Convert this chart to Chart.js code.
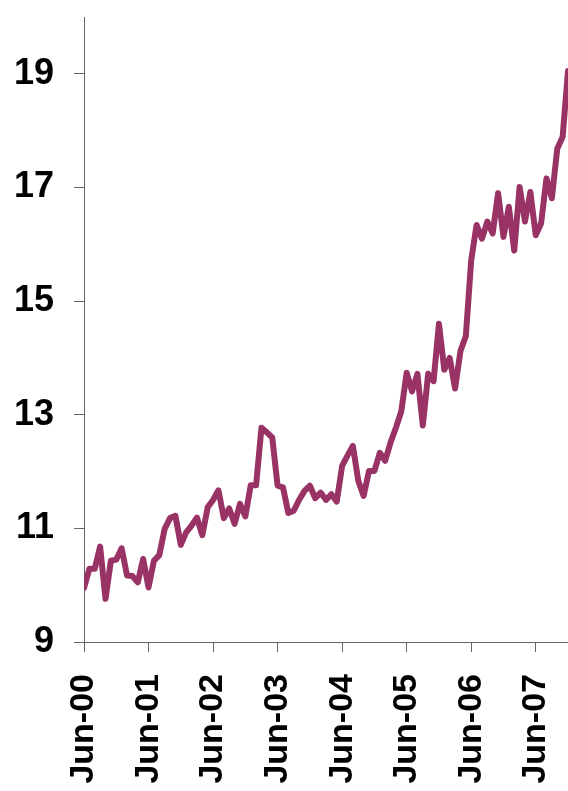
<!DOCTYPE html>
<html>
<head>
<meta charset="utf-8">
<script src="https://cdn.jsdelivr.net/npm/chart.js@4.4.1/dist/chart.umd.min.js"></script>
<style>
  html, body { margin: 0; padding: 0; background: #fff; }
  #wrap { width: 568px; height: 791px; position: relative; }
</style>
</head>
<body>
<div id="wrap"><canvas id="chart"></canvas></div>
<script>
// monthly series, Jun-00 .. Dec-07
const MONTH_NAMES = ['Jan', 'Feb', 'Mar', 'Apr', 'May', 'Jun', 'Jul', 'Aug', 'Sep', 'Oct', 'Nov', 'Dec'];
const months = [];
for (let i = 0; i < 91; i++) {
    const m = 5 + i;
    const yr = 2000 + Math.floor(m / 12);
    months.push(MONTH_NAMES[m % 12] + '-' + String(yr % 100).padStart(2, '0'));
}

const values = [
    9.95, 10.29, 10.29, 10.68, 9.76, 10.43, 10.45, 10.65, 10.17, 10.16,
    10.05, 10.46, 9.96, 10.43, 10.53, 10.99, 11.18, 11.22, 10.71, 10.93,
    11.05, 11.19, 10.88, 11.37, 11.5, 11.67, 11.18, 11.35, 11.08, 11.43,
    11.21, 11.76, 11.76, 12.77, 12.69, 12.6, 11.75, 11.72, 11.27, 11.31,
    11.5, 11.66, 11.75, 11.53, 11.63, 11.5, 11.6, 11.47, 12.1, 12.28,
    12.45, 11.84, 11.57, 12.01, 12.01, 12.33, 12.19, 12.51, 12.77, 13.06,
    13.74, 13.41, 13.72, 12.81, 13.72, 13.59, 14.6, 13.79, 14.0, 13.46,
    14.12, 14.38, 15.72, 16.34, 16.1, 16.4, 16.19, 16.9, 16.13, 16.66,
    15.89, 17.01, 16.4, 16.92, 16.16, 16.37, 17.16, 16.81, 17.68, 17.89,
    19.05
];

const xTickIdx = [0, 12, 24, 36, 48, 60, 72, 84];
const yTicks = [9, 11, 13, 15, 17, 19];

const LINE_COLOR = '#993366';
const AXIS_COLOR = '#666666';
const FONT = 'Liberation Sans, Arial, Helvetica, sans-serif';

new Chart(document.getElementById('chart'), {
    type: 'line',
    data: {
        datasets: [{
            data: values.map((v, i) => ({ x: i, y: v })),
            borderColor: LINE_COLOR,
            borderWidth: 6,
            pointRadius: 0,
            tension: 0,
            borderJoinStyle: 'round',
            borderCapStyle: 'round'
        }]
    },
    options: {
        responsive: true,
        maintainAspectRatio: false,
        animation: false,
        layout: { padding: { top: 17, right: 0, left: 0, bottom: 0 } },
        plugins: {
            legend: { display: false },
            tooltip: { enabled: false }
        },
        scales: {
            x: {
                type: 'linear',
                min: 0,
                max: values.length - 1,
                afterBuildTicks: (scale) => {
                    scale.ticks = xTickIdx.map((v) => ({ value: v }));
                },
                afterFit: (scale) => {
                    scale.height = 149;
                    scale.paddingLeft = 0;
                    scale.paddingRight = 0;
                },
                ticks: {
                    autoSkip: false,
                    minRotation: 90,
                    maxRotation: 90,
                    padding: 22,
                    color: '#000',
                    font: { family: FONT, size: 34, weight: 'bold' },
                    callback: (v) => months[v]
                },
                grid: {
                    drawOnChartArea: false,
                    drawTicks: true,
                    tickLength: 10,
                    color: AXIS_COLOR
                },
                border: { color: AXIS_COLOR, width: 1 }
            },
            y: {
                min: 9,
                max: 20,
                afterBuildTicks: (scale) => {
                    scale.ticks = yTicks.map((v) => ({ value: v }));
                },
                afterFit: (scale) => {
                    scale.width = 84;
                    scale.paddingTop = 0;
                    scale.paddingBottom = 0;
                },
                ticks: {
                    padding: 20,
                    color: '#000',
                    font: { family: FONT, size: 36, weight: 'bold' }
                },
                grid: {
                    drawOnChartArea: false,
                    drawTicks: true,
                    tickLength: 10,
                    color: AXIS_COLOR
                },
                border: { color: AXIS_COLOR, width: 1 }
            }
        }
    }
});
</script>
</body>
</html>
